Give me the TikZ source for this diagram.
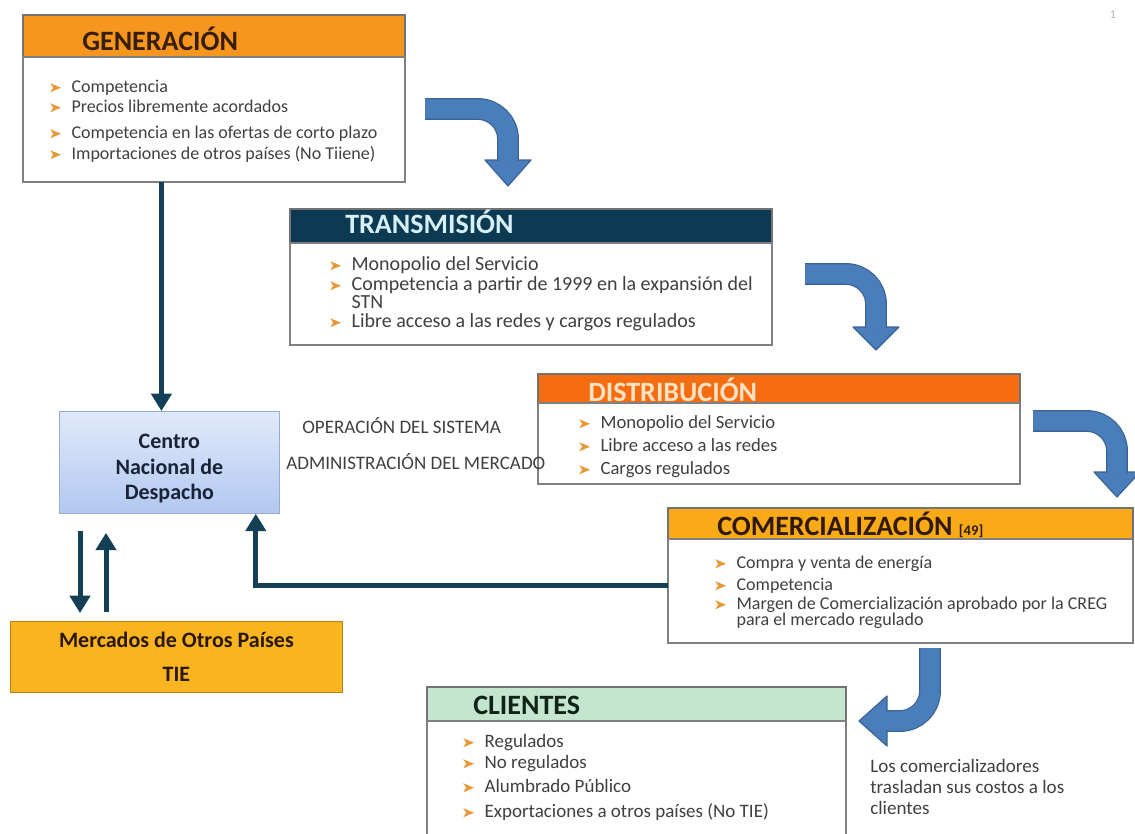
\documentclass[tikz,border=0pt]{standalone}
\usepackage{fontspec}
\setmainfont{Carlito}
\usetikzlibrary{arrows.meta,positioning,calc}
\definecolor{GenOrange}{RGB}{247,150,30}
\definecolor{GenText}{RGB}{55,30,10}
\definecolor{TrnNavy}{RGB}{12,58,82}
\definecolor{TrnText}{RGB}{214,240,246}
\definecolor{DisOrange}{RGB}{246,108,16}
\definecolor{DisText}{RGB}{253,226,196}
\definecolor{ComGold}{RGB}{249,170,22}
\definecolor{ComText}{RGB}{48,26,6}
\definecolor{CliGreen}{RGB}{196,230,208}
\definecolor{CliText}{RGB}{16,36,22}
\definecolor{MerGold}{RGB}{250,180,32}
\definecolor{MerEdge}{RGB}{190,130,20}
\definecolor{MerText}{RGB}{40,24,4}
\definecolor{CndTop}{RGB}{224,233,250}
\definecolor{CndBot}{RGB}{178,200,240}
\definecolor{CndEdge}{RGB}{150,172,214}
\definecolor{CndText}{RGB}{25,35,55}
\definecolor{FlowBlue}{RGB}{74,126,187}
\definecolor{FlowEdge}{RGB}{58,98,148}
\definecolor{LinkTeal}{RGB}{20,64,86}
\definecolor{BulletOr}{RGB}{232,152,52}
\definecolor{BodyGray}{RGB}{64,64,64}
\newlength{\px}\setlength{\px}{0.75pt}
\newcommand{\bul}{\makebox[16pt][l]{\tikz[baseline=0pt]\fill[BulletOr] (0pt,0pt) -- (8pt,3.4pt) -- (0pt,6.8pt) -- (2.2pt,3.4pt) -- cycle;}}
\newcommand{\tight}{\lineskiplimit=-20pt\lineskip=0pt}

\begin{document}
\begin{tikzpicture}[
    x=0.75pt, y=-0.75pt,
    hd/.style={draw=black!55, line width=0.8pt, inner sep=0pt, outer sep=0pt, anchor=north west},
    bd/.style={draw=black!50, line width=0.8pt, fill=white, inner sep=0pt, outer sep=0pt},
    ttl/.style={anchor=base west, inner sep=0pt, font=\fontsize{21}{24}\selectfont\bfseries},
    lst/.style={anchor=north west, inner sep=0pt, align=left, text=BodyGray},
    note/.style={anchor=base west, inner sep=0pt, text=BodyGray, font=\fontsize{14.3}{16}\selectfont},
    lnk/.style={-{Triangle[width=15pt,length=13pt]}, line width=3.75pt, LinkTeal},
    flow/.style={draw=FlowEdge, line width=0.9pt, double=FlowBlue, double distance=14.6pt, rounded corners=30\px},
    flowhead/.style={fill=FlowBlue, draw=FlowEdge, line width=0.9pt, line join=round}
  ]
    \useasboundingbox (0,0) rectangle (1135,833);
    \clip (0,0) rectangle (1135,833);

    \node[hd, fill=GenOrange, minimum width=382\px, minimum height=42\px] (gen) at (23,15) {};
    \node[bd, minimum width=382\px, minimum height=125\px, below=0pt of gen] (genb) {};
    \node[ttl, text=GenText] (gent) at (82,50) {GENERACIÓN};
    \node[lst, font=\fontsize{13.5}{15}\selectfont\tight] (genl) at (50,76)
      {\rule{0pt}{12pt}\bul Competencia\\ \bul Precios libremente acordados\\[4.5pt]
       \bul Competencia en las ofertas de corto plazo\\[0.75pt] \bul Importaciones de otros países (No Tiiene)};

    \node[hd, fill=TrnNavy, minimum width=482\px, minimum height=34\px] (trn) at (290,209) {};
    \node[bd, minimum width=482\px, minimum height=102\px, below=0pt of trn] (trnb) {};
    \node[ttl, text=TrnText] (trnt) at (345,233) {TRANSMISIÓN};
    \node[lst, font=\fontsize{15}{13.5}\selectfont\tight] (trnl) at (330,254)
      {\rule{0pt}{12pt}\bul Monopolio del Servicio\\[1.5pt] \bul Competencia a partir de 1999 en la expansión del\\
       \hspace*{16pt}STN\\[0.75pt] \bul Libre acceso a las redes y cargos regulados};

    \node[hd, fill=DisOrange, minimum width=482\px, minimum height=29\px] (dis) at (538,374) {};
    \node[bd, minimum width=482\px, minimum height=81\px, below=0pt of dis] (disb) {};
    \node[ttl, text=DisText] (dist) at (588,401) {DISTRIBUCIÓN};
    \node[lst, font=\fontsize{14}{17.25}\selectfont\tight] (disl) at (579,412)
      {\rule{0pt}{12pt}\bul Monopolio del Servicio\\ \bul Libre acceso a las redes\\ \bul Cargos regulados};

    \node[hd, fill=ComGold, minimum width=465\px, minimum height=31\px] (com) at (668,508) {};
    \node[bd, minimum width=465\px, minimum height=104\px, below=0pt of com] (comb) {};
    \node[ttl, text=ComText] (comt) at (717,535) {COMERCIALIZACIÓN {\fontsize{11}{12}\selectfont[49]}};
    \node[lst, font=\fontsize{13.5}{12}\selectfont\tight] (coml) at (715,552)
      {\rule{0pt}{12pt}\bul Compra y venta de energía\\[4.5pt] \bul Competencia\\[2.25pt]
       \bul Margen de Comercialización aprobado por la CREG\\ \hspace*{16pt}para el mercado regulado};

    \node[hd, fill=CliGreen, minimum width=419\px, minimum height=34\px] (cli) at (427,687) {};
    \node[bd, minimum width=419\px, minimum height=130\px, below=0pt of cli] (clib) {};
    \node[ttl, text=CliText] (clit) at (473,714) {CLIENTES};
    \node[lst, font=\fontsize{14.25}{15.75}\selectfont\tight] (clil) at (463,731)
      {\rule{0pt}{12pt}\bul Regulados\\ \bul No regulados\\[2.25pt] \bul Alumbrado Público\\[3pt]
       \bul Exportaciones a otros países (No TIE)};

    \node[draw=CndEdge, line width=0.6pt, top color=CndTop, bottom color=CndBot, minimum width=220\px, minimum height=102\px,
      anchor=north west, inner sep=0pt, align=center, text=CndText, font=\fontsize{16.5}{19}\selectfont\bfseries] (cnd) at (59,411)
      {\rule{0pt}{20pt}Centro\\Nacional de\\Despacho};
    \node[draw=MerEdge, line width=0.6pt, fill=MerGold, minimum width=332\px, minimum height=71\px,
      anchor=north west, inner sep=0pt, align=center, text=MerText, font=\fontsize{16.5}{26}\selectfont\bfseries] (mer) at (10,621)
      {Mercados de Otros Países\\TIE};

    \node[note] (ope) at (302,433) {OPERACIÓN DEL SISTEMA};
    \node[note] (adm) at (286,469) {ADMINISTRACIÓN DEL MERCADO};
    \node[note, anchor=north west, align=left] (tras) at (870,756)
      {\rule{0pt}{12pt}Los comercializadores\\trasladan sus costos a los\\clientes};
    \node[anchor=base, inner sep=0pt, text=black!30, font=\fontsize{9}{10}\selectfont] (pg) at (1113,18) {1};

    \coordinate (gcA) at ($(cnd.north)+(-8,0)$);
    \coordinate (dnA) at ($(cnd.south west)+(21,0)$);
    \coordinate (upA) at ($(cnd.south west)+(47,0)$);
    \coordinate (ccA) at ($(cnd.south east)+(-24,0)$);
    \draw[lnk] (gcA |- genb.south) -- (gcA);
    \draw[lnk, shorten <=17\px, shorten >=8\px] (dnA) -- (dnA |- mer.north);
    \draw[lnk, shorten <=9\px, shorten >=19\px] (upA |- mer.north) -- (upA);
    \draw[lnk] ($(comb.west)+(0,-6)$) -| (ccA);

    \coordinate (f1s) at (425,109);
    \coordinate (f1e) at (508,161);
    \coordinate (f2s) at (805,274);
    \coordinate (f2e) at (876,328);
    \coordinate (f3s) at (1033,421);
    \coordinate (f3e) at (1117,473);
    \coordinate (f4s) at (930,648);
    \coordinate (f4e) at (886,721);
    \draw[flowhead] ($(f1e)+(-23,-1)$) -- ($(f1e)+(23,-1)$) -- ($(f1e)+(0,25)$) -- cycle;
    \draw[flow] (f1s) -| (f1e);
    \draw[flowhead] ($(f2e)+(-23,-1)$) -- ($(f2e)+(23,-1)$) -- ($(f2e)+(0,22)$) -- cycle;
    \draw[flow] (f2s) -| (f2e);
    \draw[flowhead] ($(f3e)+(-23,-1)$) -- ($(f3e)+(23,-1)$) -- ($(f3e)+(0,24)$) -- cycle;
    \draw[flow] (f3s) -| (f3e);
    \draw[flowhead] ($(f4e)+(1,-25)$) -- ($(f4e)+(1,25)$) -- ($(f4e)+(-27,0)$) -- cycle;
    \draw[flow] (f4s) |- (f4e);
  \end{tikzpicture}
\end{document}
